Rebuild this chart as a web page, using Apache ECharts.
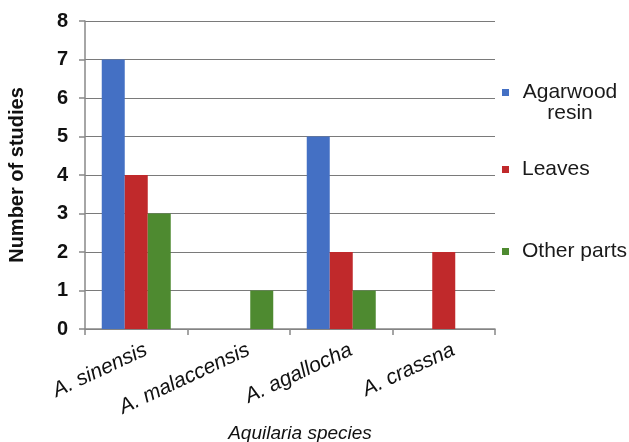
<!DOCTYPE html>
<html><head><meta charset="utf-8">
<script src="https://cdn.jsdelivr.net/npm/echarts@6/dist/echarts.min.js"></script>
<style>html,body{margin:0;padding:0;background:#fff}#c{width:629px;height:442px}</style>
</head><body><div id="c"></div>
<script>
var categories = ['A. sinensis', 'A. malaccensis', 'A. agallocha', 'A. crassna'];
var resin = [7, 0, 5, 0];
var leaves = [4, 0, 2, 2];
var other = [3, 1, 1, 0];
var yTicks = [0, 1, 2, 3, 4, 5, 6, 7, 8];

var font = 'Liberation Sans, Arial, sans-serif';
var chart = echarts.init(document.getElementById('c'), null, {renderer: 'canvas'});
function legendItem(name, top) {
  return {
    orient: 'vertical', left: 497, top: top, itemWidth: 7, itemHeight: 7, itemGap: 0,
    icon: 'rect', data: [name],
    formatter: function (n) {
      return n === 'Agarwood resin' ? '{c| }\n{c|Agarwood}\n{c|resin}' : '{t|' + n + '}';
    },
    textStyle: {fontFamily: font, fontSize: 21, color: '#1a1a1a',
      rich: {
        c: {fontFamily: font, fontSize: 21, color: '#1a1a1a', width: 96, align: 'center', lineHeight: 21, padding: [0, 0, 0, 8]},
        t: {fontFamily: font, fontSize: 21, color: '#1a1a1a', padding: [0, 0, 0, 8]}
      }}
  };
}
chart.setOption({
  animation: false,
  backgroundColor: '#fff',
  grid: {left: 85, right: 134, top: 21, bottom: 113, containLabel: false, outerBoundsMode: 'none'},
  legend: [legendItem('Agarwood resin', 56), legendItem('Leaves', 154), legendItem('Other parts', 236)],
  xAxis: {
    type: 'category', data: categories,
    name: 'Aquilaria species', nameLocation: 'middle', nameGap: 94,
    nameTextStyle: {fontFamily: font, fontSize: 19, fontStyle: 'italic', color: '#111', padding: [0, 0, 0, 20]},
    axisLine: {lineStyle: {color: '#888', width: 1.5}},
    axisTick: {show: true, length: 6, lineStyle: {color: '#888', width: 1.5}},
    axisLabel: {rotate: 25, fontFamily: font, fontSize: 21, fontStyle: 'italic', color: '#111', margin: 13, interval: 0,
      align: 'right', verticalAlign: 'top', padding: [0, -6, 0, 0]}
  },
  yAxis: {
    type: 'value', min: 0, max: 8, interval: 1,
    name: 'Number of studies', nameLocation: 'middle', nameGap: 58, nameRotate: 90,
    nameTextStyle: {fontFamily: font, fontSize: 20, fontWeight: 'bold', color: '#111'},
    axisLine: {show: true, lineStyle: {color: '#888', width: 1.5}},
    axisTick: {show: true, length: 6, lineStyle: {color: '#888', width: 1.5}},
    axisLabel: {fontFamily: font, fontSize: 20, fontWeight: 'bold', color: '#111', margin: 17,
      formatter: function (v) { return yTicks.indexOf(v) >= 0 ? String(v) : ''; }},
    splitLine: {lineStyle: {color: '#7a7a7a', width: 1.2}}
  },
  series: [
    {name: 'Agarwood resin', type: 'bar', data: resin, barWidth: 23, barGap: '0%', itemStyle: {color: '#4470c4'}},
    {name: 'Leaves', type: 'bar', data: leaves, barWidth: 23, barGap: '0%', itemStyle: {color: '#c0292b'}},
    {name: 'Other parts', type: 'bar', data: other, barWidth: 23, barGap: '0%', itemStyle: {color: '#4e8a30'}}
  ]
});
</script></body></html>
